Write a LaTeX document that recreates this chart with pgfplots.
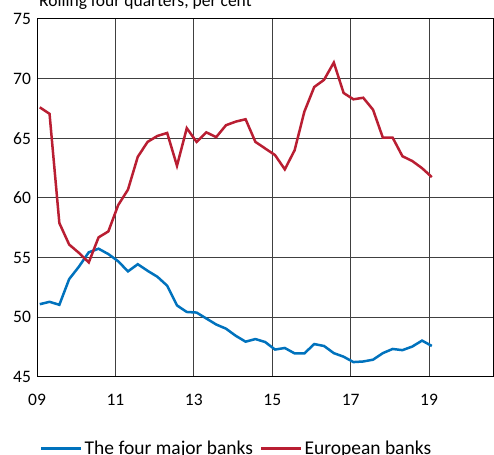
\documentclass[border=0pt]{standalone}
\usepackage{pgfplots}
\pgfplotsset{compat=1.18}
\usepackage{fontspec}
\setmainfont{Carlito}
\definecolor{fourblue}{RGB}{0,114,189}
\definecolor{eured}{RGB}{185,30,50}
\begin{document}
\begin{tikzpicture}[x=1pt,y=1pt]
\fontsize{17.5}{20}\selectfont
\begin{axis}[
  at={(37pt,77pt)}, anchor=south west,
  width=456pt, height=358pt, scale only axis,
  xmin=9, xmax=20.63, ymin=45, ymax=75,
  xtick={9,11,13,15,17,19},
  xticklabels={09,11,13,15,17,19},
  ytick={45,50,55,60,65,70,75},
  major tick length=0pt,
  grid=major,
  grid style={black!75, line width=1pt},
  axis line style={black, line width=1pt},
  tick label style={font=\fontsize{17.5}{20}\selectfont},
  xticklabel style={yshift=-11pt},
  /pgf/number format/assume math mode=true,
  legend style={draw=none, fill=none, inner sep=0pt, legend columns=2,
    at={(0.0066,-0.200)}, anchor=west,
    font=\fontsize{19.5}{22}\selectfont,
    /tikz/every even column/.append style={column sep=5pt}},
  legend image code/.code={\draw[#1] (0pt,0pt) -- (40pt,0pt);},
]
\addplot[fourblue, line width=2.5pt] table {
9.07 51.1
9.32 51.3
9.57 51.05
9.82 53.2
10.07 54.25
10.32 55.45
10.57 55.75
10.82 55.3
11.07 54.7
11.32 53.85
11.57 54.45
11.82 53.9
12.07 53.4
12.32 52.65
12.57 51.0
12.82 50.45
13.07 50.4
13.32 49.9
13.57 49.4
13.82 49.05
14.07 48.45
14.32 47.96
14.57 48.18
14.82 47.93
15.07 47.3
15.32 47.43
15.57 46.98
15.82 46.98
16.07 47.76
16.32 47.6
16.57 47.0
16.82 46.7
17.07 46.25
17.32 46.3
17.57 46.45
17.82 47.0
18.07 47.35
18.32 47.25
18.57 47.55
18.82 48.05
19.07 47.6
};
\addlegendentry{The four major banks}
\addplot[eured, line width=2.5pt] table {
9.07 67.6
9.32 67.05
9.57 57.9
9.82 56.1
10.07 55.4
10.32 54.6
10.57 56.7
10.82 57.2
11.07 59.4
11.32 60.7
11.57 63.45
11.82 64.7
12.07 65.2
12.32 65.45
12.57 62.7
12.82 65.85
13.07 64.7
13.32 65.5
13.57 65.1
13.82 66.1
14.07 66.4
14.32 66.6
14.57 64.7
14.82 64.15
15.07 63.6
15.32 62.4
15.57 64.0
15.82 67.25
16.07 69.3
16.32 69.9
16.57 71.35
16.82 68.8
17.07 68.27
17.32 68.4
17.57 67.4
17.82 65.06
18.07 65.06
18.32 63.5
18.57 63.1
18.82 62.5
19.07 61.75
};
\addlegendentry{European banks}
\end{axis}
\node[anchor=base west, inner sep=0pt] at (39pt,447pt) {Rolling four quarters, per cent};
\pgfresetboundingbox
\path[use as bounding box] (0pt,0pt) rectangle (494pt,454pt);
\end{tikzpicture}
\end{document}
